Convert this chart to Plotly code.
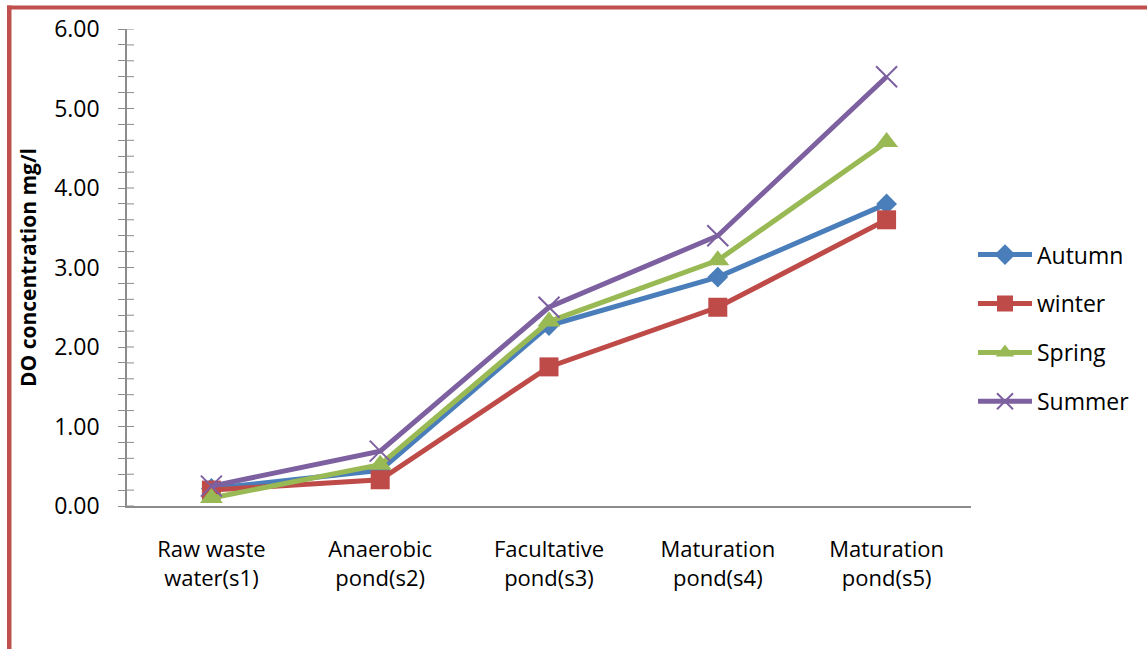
import plotly.graph_objects as go

# Sampling stations along the treatment ponds
stations = ["Raw waste<br>water(s1)", "Anaerobic<br>pond(s2)", "Facultative<br>pond(s3)",
            "Maturation<br>pond(s4)", "Maturation<br>pond(s5)"]

# Dissolved oxygen (mg/l) per season
autumn = [0.22, 0.45, 2.27, 2.88, 3.80]
winter = [0.20, 0.33, 1.75, 2.50, 3.60]
spring = [0.10, 0.52, 2.32, 3.09, 4.58]
summer = [0.25, 0.69, 2.50, 3.40, 5.40]

y_ticks = [0, 1, 2, 3, 4, 5, 6]
y_tick_text = ["0.00", "1.00", "2.00", "3.00", "4.00", "5.00", "6.00"]

W, H = 1147, 649
ML, MR, MT, MB = 127, 176, 27, 143
PW, PH = W - ML - MR, H - MT - MB

FONT = "Open Sans, Noto Sans, sans-serif"

series = [
    ("Autumn", autumn, "#4A7EBB", "diamond", 16),
    ("winter", winter, "#BE4B48", "square", 19),
    ("Spring", spring, "#98B954", "triangle-up", 20),
    ("Summer", summer, "#7D60A0", "x-thin", 21),
]

fig = go.Figure()
for i, (name, vals, color, sym, size) in enumerate(series):
    marker = dict(symbol=sym, size=size, color=color)
    if sym == "x-thin":
        marker["line"] = dict(color=color, width=2)
    fig.add_trace(go.Scatter(
        x=list(range(len(stations))), y=vals, name=name, mode="lines+markers",
        line=dict(color=color, width=5), marker=marker, legendgroup=f"g{i}",
    ))


def px_x(px):
    return (px - ML) / PW


def px_y(py):
    return (H - MB - py) / PH


# Red frame along the top and left edges
frame = "#C0504D"
fig.add_shape(type="rect", xref="paper", yref="paper",
              x0=px_x(7), x1=px_x(W + 5), y0=px_y(7.5), y1=px_y(3.5),
              fillcolor=frame, line_width=0, layer="above")
fig.add_shape(type="rect", xref="paper", yref="paper",
              x0=px_x(7), x1=px_x(11.5), y0=px_y(H + 5), y1=px_y(3.5),
              fillcolor=frame, line_width=0, layer="above")

fig.update_layout(
    width=W, height=H, autosize=False,
    margin=dict(l=ML, r=MR, t=MT, b=MB),
    paper_bgcolor="white", plot_bgcolor="white",
    font=dict(family=FONT, size=23, color="#000000"),
    showlegend=True,
    legend=dict(
        x=px_x(973), y=px_y(232), xanchor="left", yanchor="top",
        traceorder="grouped", tracegroupgap=16,
        font=dict(family=FONT, size=23, color="#000000"),
        bgcolor="rgba(0,0,0,0)", itemwidth=54,
    ),
    xaxis=dict(
        range=[-0.5, 4.5], tickmode="array", tickvals=list(range(len(stations))),
        ticktext=stations, showgrid=False, zeroline=False,
        showline=True, linecolor="#8C8C8C", linewidth=1.5, ticks="",
        tickfont=dict(family=FONT, size=22), ticklabelstandoff=23,
    ),
    yaxis=dict(
        range=[0, 6], tickmode="array", tickvals=y_ticks, ticktext=y_tick_text,
        showgrid=False, zeroline=False, showline=True, linecolor="#8C8C8C",
        linewidth=1.5, ticks="outside", ticklen=7, tickcolor="#8C8C8C",
        tickwidth=1, tickfont=dict(family=FONT, size=23), ticklabelstandoff=14,
        minor=dict(dtick=0.2, ticks="outside", ticklen=7, tickcolor="#8C8C8C", tickwidth=1),
        title=dict(text="<b>DO concentration mg/l</b>",
                   font=dict(family=FONT, size=21), standoff=12),
    ),
)

# Inner half of the crossing tick marks on the value axis
for v in [k * 0.2 for k in range(31)]:
    fig.add_shape(type="line", xref="paper", yref="y",
                  x0=0, x1=px_x(ML + 7), y0=v, y1=v,
                  line=dict(color="#8C8C8C", width=1))

fig.write_html("out.html")
